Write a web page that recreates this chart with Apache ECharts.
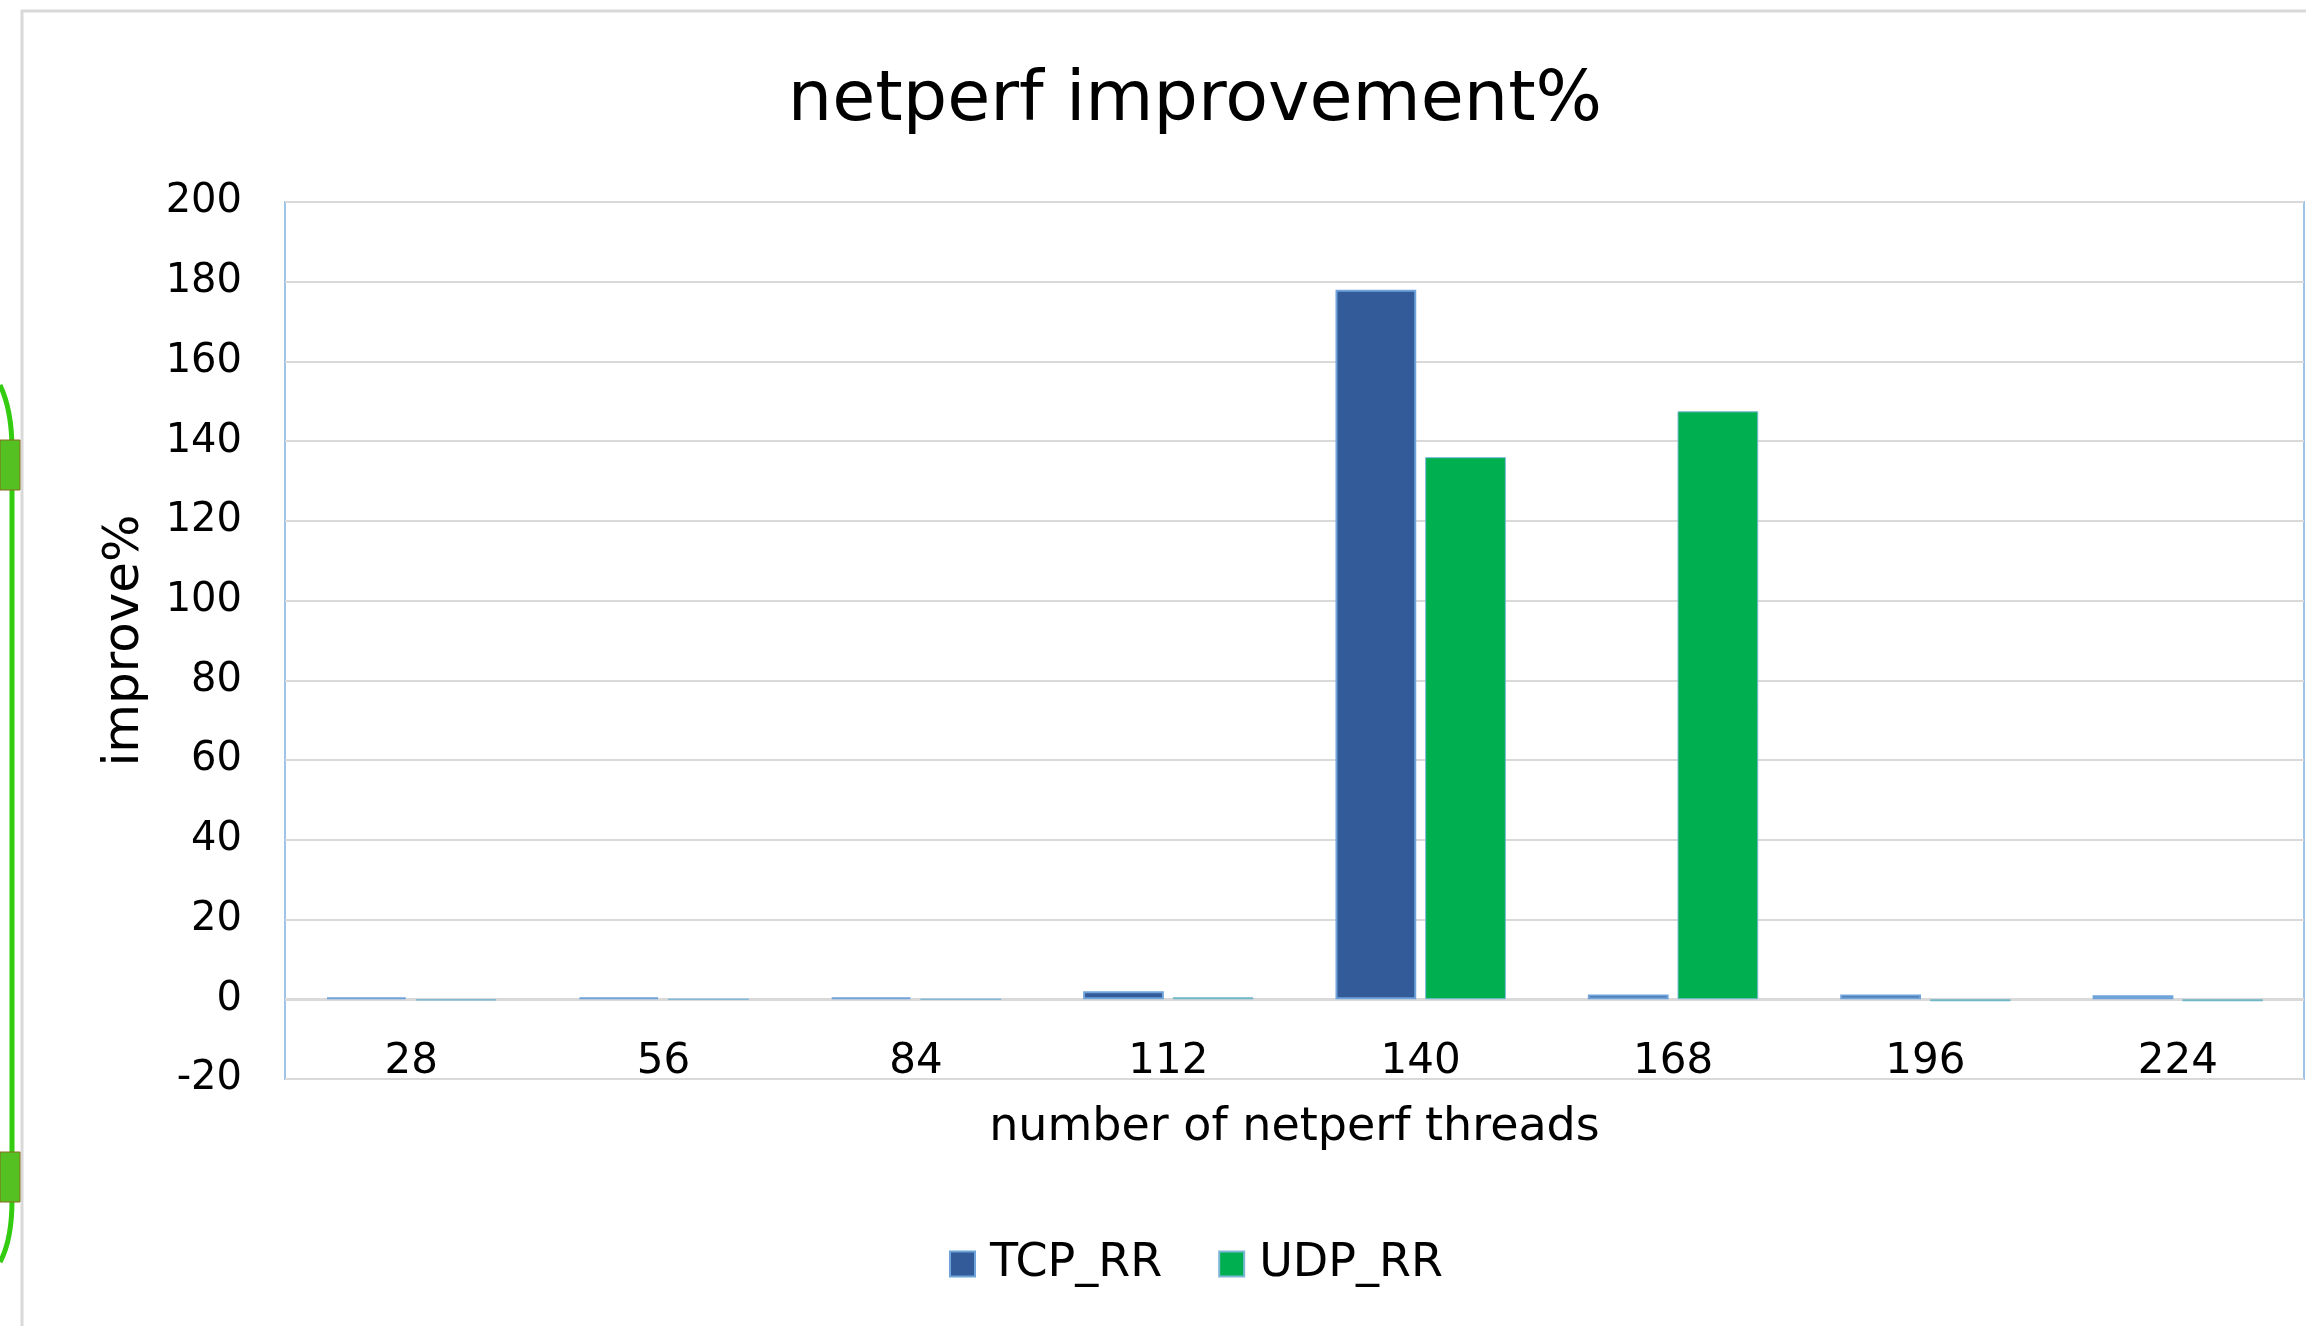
<!DOCTYPE html>
<html>
<head>
<meta charset="utf-8">
<script src="https://cdn.jsdelivr.net/npm/echarts@6/dist/echarts.min.js"></script>
<style>
    html, body { margin: 0; padding: 0; background: #fff; }
    #chart { width: 2306px; height: 1326px; }
</style>
</head>
<body>
<div id="chart"></div>
<script>
// 数据
const threads = ['28', '56', '84', '112', '140', '168', '196', '224'];
const tcpRR = [0.5, 0.5, 0.5, 2, 178, 1.2, 1.2, 1];
const udpRR = [-0.3, 0, 0, 0.5, 136, 147.5, -0.5, -0.5];
const yTicks = { min: -20, max: 200, step: 20 };

const font = 'DejaVu Sans';
let chart = echarts.init(document.getElementById('chart'));

let option = {
    backgroundColor: '#fff',
    textStyle: { fontFamily: font },
    title: {
        text: 'netperf improvement%',
        left: 1190,
        textAlign: 'center',
        top: 62,
        textStyle: { color: '#000', fontSize: 70, fontWeight: 'normal', fontFamily: font }
    },
    legend: {
        left: 944,
        top: 1236,
        itemWidth: 25,
        itemHeight: 25,
        itemGap: 56,
        icon: 'rect',
        textStyle: { color: '#000', fontSize: 46, fontFamily: font, padding: [0, 0, 0, 10] }
    },
    grid: {
        left: 285,
        right: 2,
        top: 202,
        bottom: 247,
        show: true,
        borderColor: '#9dc3e6',
        borderWidth: 2
    },
    xAxis: {
        type: 'category',
        data: threads,
        name: 'number of netperf threads',
        nameLocation: 'middle',
        nameGap: 26,
        nameTextStyle: { color: '#000', fontSize: 46, fontFamily: font },
        axisLine: { show: false },
        axisTick: { show: false },
        axisLabel: { color: '#000', fontSize: 42, margin: -38, fontFamily: font }
    },
    yAxis: {
        type: 'value',
        min: yTicks.min,
        max: yTicks.max,
        interval: yTicks.step,
        name: 'improve%',
        nameLocation: 'middle',
        nameGap: 135,
        nameTextStyle: { color: '#000', fontSize: 50, fontFamily: font },
        axisLine: { show: false },
        axisTick: { show: false },
        axisLabel: { color: '#000', fontSize: 40, margin: 43, fontFamily: font },
        splitLine: { lineStyle: { color: '#d9d9d9', width: 2 } }
    },
    series: [
        {
            name: 'TCP_RR',
            type: 'bar',
            data: tcpRR,
            barWidth: '32%',
            barGap: '11%',
            itemStyle: { color: '#335b99', borderColor: '#6fa3d9', borderWidth: 2 },
            // 零线加粗
            markLine: {
                silent: true,
                symbol: 'none',
                label: { show: false },
                lineStyle: { color: '#d9d9d9', width: 3, type: 'solid' },
                data: [{ yAxis: 0 }],
                z: 1
            }
        },
        {
            name: 'UDP_RR',
            type: 'bar',
            data: udpRR,
            barWidth: '32%',
            itemStyle: { color: '#00b050', borderColor: '#7fb8d6', borderWidth: 1 }
        }
    ],
    graphic: [
        // 外框
        {
            type: 'rect',
            shape: { x: 22, y: 11, width: 2400, height: 1400 },
            style: { fill: 'none', stroke: '#d9d9d9', lineWidth: 3 },
            silent: true
        },
        // 左侧绿色连接线
        {
            type: 'bezierCurve',
            shape: { x1: 0, y1: 385, x2: 12, y2: 450, cpx1: 12, cpy1: 410 },
            style: { fill: 'none', stroke: '#33cc11', lineWidth: 5 },
            silent: true
        },
        {
            type: 'line',
            shape: { x1: 12, y1: 450, x2: 12, y2: 1200 },
            style: { stroke: '#33cc11', lineWidth: 5 },
            silent: true
        },
        {
            type: 'bezierCurve',
            shape: { x1: 12, y1: 1200, x2: 0, y2: 1262, cpx1: 12, cpy1: 1240 },
            style: { fill: 'none', stroke: '#33cc11', lineWidth: 5 },
            silent: true
        },
        {
            type: 'rect',
            shape: { x: 0, y: 440, width: 20, height: 50 },
            style: { fill: '#55c022', stroke: '#8a6a20', lineWidth: 1 },
            silent: true
        },
        {
            type: 'rect',
            shape: { x: 0, y: 1152, width: 20, height: 50 },
            style: { fill: '#55c022', stroke: '#8a6a20', lineWidth: 1 },
            silent: true
        }
    ]
};
chart.setOption(option);
</script>
</body>
</html>
